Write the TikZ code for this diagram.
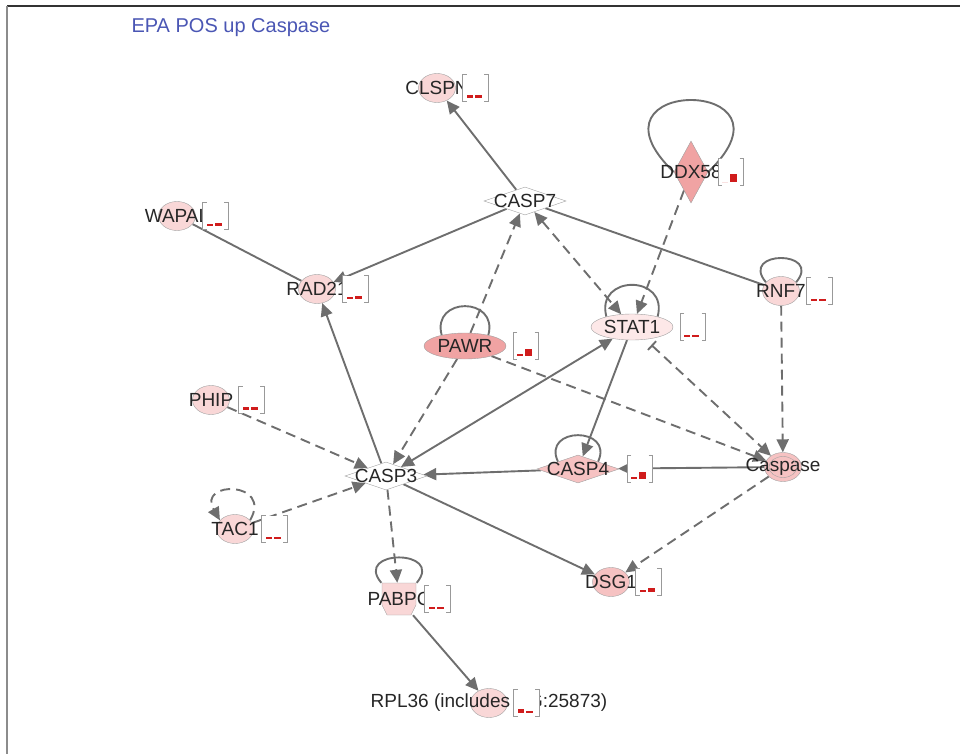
\documentclass[tikz,border=0pt]{standalone}
\usepackage{fontspec}
\setmainfont{Liberation Sans}
\usetikzlibrary{arrows.meta,positioning,shapes.geometric,backgrounds,calc}

\definecolor{edgegray}{HTML}{6E6E6E}
\definecolor{rim}{HTML}{A0A0A0}
\definecolor{pinkpale}{HTML}{FDE8E8}
\definecolor{pinklight}{HTML}{F9D7D7}
\definecolor{pinkmid}{HTML}{F6C2C2}
\definecolor{pinkdeep}{HTML}{F0A3A3}
\definecolor{barred}{HTML}{D01C1C}
\definecolor{titleblue}{HTML}{4A56B4}

\newcommand\levels[3]{%
  \draw[boxline] ($(#1.north west)+(4,0)$) -- (#1.north west) -- (#1.south west) -- ++(4,0);
  \draw[boxline] ($(#1.north east)+(-4,0)$) -- (#1.north east) -- (#1.south east) -- ++(-4,0);
  \fill[barred] ($(#1.south west)+(4,3)$) rectangle ++(6,#2);
  \fill[barred] ($(#1.south west)+(12,3)$) rectangle ++(7,#3);
}

\begin{document}
\begin{tikzpicture}[x=1pt,y=1pt,
    >={Triangle[length=13pt,width=12pt]},
    link/.style={draw=edgegray, line width=1.9pt},
    dlink/.style={link, dash pattern=on 10pt off 6pt},
    gene/.style={ellipse, draw=rim, fill=pinklight, minimum width=37, minimum height=29, inner sep=0},
    tf/.style={gene, minimum width=82, minimum height=26},
    peptidase/.style={diamond, draw=rim, fill=white, minimum width=82, minimum height=28, inner sep=0},
    databox/.style={rectangle, fill=white, minimum width=25, minimum height=26, inner sep=0},
    boxline/.style={draw=black!40, line width=1.2pt},
    every label/.style={font=\fontsize{19}{19}\selectfont, text=black!85, inner sep=0}]
    \useasboundingbox (0,0) rectangle (960,-754);
    \draw[black!80, line width=2pt] (7,-6) -- (960,-6);
    \draw[black!45, line width=2.5pt] (7,-6) -- (7,-754);
    \node[anchor=base west, text=titleblue, font=\fontsize{20}{20}\selectfont] (title) at (128,-33) {EPA POS up Caspase};

    \node[gene, label=center:CLSPN] (clspn) at (437,-88) {};
    \node[gene, label=center:WAPAL] (wapal) at (177,-216) {};
    \node[gene, label=center:RAD21] (rad21) at (317,-289) {};
    \node[gene, label=center:PHIP] (phip) at (211,-400) {};
    \node[gene, label=center:TAC1] (tac1) at (235,-529) {};
    \node[gene, label=center:RNF7] (rnf7) at (781,-291) {};
    \node[gene, fill=pinkmid, label=center:DSG1] (dsg1) at (611,-582) {};
    \node[gene, label={center:{RPL36 (includes EG:25873)}}] (rpl36) at (489,-703) {};
    \node[gene, fill=pinkmid, label=center:Caspase] (caspase) at (783,-467) {};
    \node[ellipse, draw=rim, minimum width=28, minimum height=21, inner sep=0] (caspaseIn) at (caspase) {};
    \node[tf, fill=pinkdeep, label=center:PAWR] (pawr) at (465,-346) {};
    \node[tf, fill=pinkpale, label=center:STAT1] (stat1) at (632,-327) {};
    \node[peptidase, label=center:CASP7] (casp7) at (525,-201) {};
    \node[peptidase, label=center:CASP3] (casp3) at (386,-476) {};
    \node[peptidase, fill=pinkmid, label=center:CASP4] (casp4) at (578,-469) {};
    \node[diamond, draw=rim, fill=pinkdeep, minimum width=34, minimum height=62, inner sep=0, label=center:DDX58] (ddx58) at (691,-172) {};
    \node[rectangle, minimum width=35, minimum height=32, inner sep=0, label=center:PABPC] (pabpc) at (399,-599) {};

    \node[databox, right=7pt of clspn] (clspnD) {};
    \node[databox, right=7pt of wapal] (wapalD) {};
    \node[databox, right=7pt of rad21] (rad21D) {};
    \node[databox, right=10pt of ddx58] (ddx58D) {};
    \node[databox, right=7pt of rnf7] (rnf7D) {};
    \node[databox, right=7pt of pawr] (pawrD) {};
    \node[databox, right=7pt of stat1] (stat1D) {};
    \node[databox, right=9pt of phip] (phipD) {};
    \node[databox, right=8pt of tac1] (tac1D) {};
    \node[databox, right=8pt of casp4] (casp4D) {};
    \node[databox, right=6pt of dsg1] (dsg1D) {};
    \node[databox, right=8pt of pabpc] (pabpcD) {};
    \node[databox, right=6pt of rpl36] (rpl36D) {};
    \levels{clspnD}{3}{3}
    \levels{wapalD}{2}{3}
    \levels{rad21D}{2}{3}
    \levels{ddx58D}{0}{8}
    \levels{rnf7D}{2}{2}
    \levels{pawrD}{2}{7}
    \levels{stat1D}{2}{2}
    \levels{phipD}{3}{3}
    \levels{tac1D}{2}{2}
    \levels{casp4D}{2}{7}
    \levels{dsg1D}{2}{4}
    \levels{pabpcD}{2}{2}
    \levels{rpl36D}{4}{2}

    \begin{scope}[on background layer]
        \filldraw[draw=rim, fill=pinklight] ($(pabpc)+(-17,16)$) -- ++(34,0) -- ++(0,-22)
            -- ++(-5,-10) -- ++(-24,0) -- ++(-5,10) -- cycle;
        \draw[link] (ddx58.west) .. controls +(-100,96) and +(100,96) .. (ddx58.east);
        \draw[link] (pawr.155) to[out=105,in=75,looseness=2.2] (pawr.25);
        \draw[link] (stat1.158) to[out=105,in=75,looseness=2.2] (stat1.22);
        \draw[link] (rnf7.150) to[out=130,in=50,looseness=3.6] (rnf7.30);
        \draw[link] (casp4.160) to[out=115,in=65,looseness=2.5] (casp4.20);
        \draw[link] (pabpc.north west) to[out=130,in=50,looseness=3.2] (pabpc.north east);
        \draw[dlink,->] (tac1.30) to[out=60,in=120,looseness=3.9] (tac1.150);

        \draw[link,->] (casp7) -- (clspn);
        \draw[link,->] (casp7) -- (rad21);
        \draw[link] (wapal) -- (rad21);
        \draw[link,->] (casp3) -- (rad21);
        \draw[link] (casp7) -- (rnf7);
        \draw[dlink,->] (pawr) -- (casp7);
        \draw[dlink,->] (pawr) -- (casp3);
        \draw[dlink,<->] (casp7) -- (stat1);
        \draw[dlink,->] (ddx58) -- (stat1);
        \draw[dlink,{Bar[width=12pt]}->, shorten <=8pt] (stat1) -- (caspase);
        \draw[dlink,->] (pawr) -- (caspase);
        \draw[dlink,->] (rnf7) -- (caspase);
        \draw[link,->] (stat1) -- (casp4);
        \draw[link,<->] (casp3) -- (stat1);
        \draw[link,->] (caspase) -- (casp4);
        \draw[link,->] (casp4) -- (casp3);
        \draw[link,->] (casp3) -- (dsg1);
        \draw[dlink,->] (caspase) -- (dsg1);
        \draw[dlink,->] (phip) -- (casp3);
        \draw[dlink,->] (tac1) -- (casp3);
        \draw[dlink,->] (casp3) -- (pabpc);
        \draw[link,->] (pabpc) -- (rpl36);
    \end{scope}
\end{tikzpicture}
\end{document}
